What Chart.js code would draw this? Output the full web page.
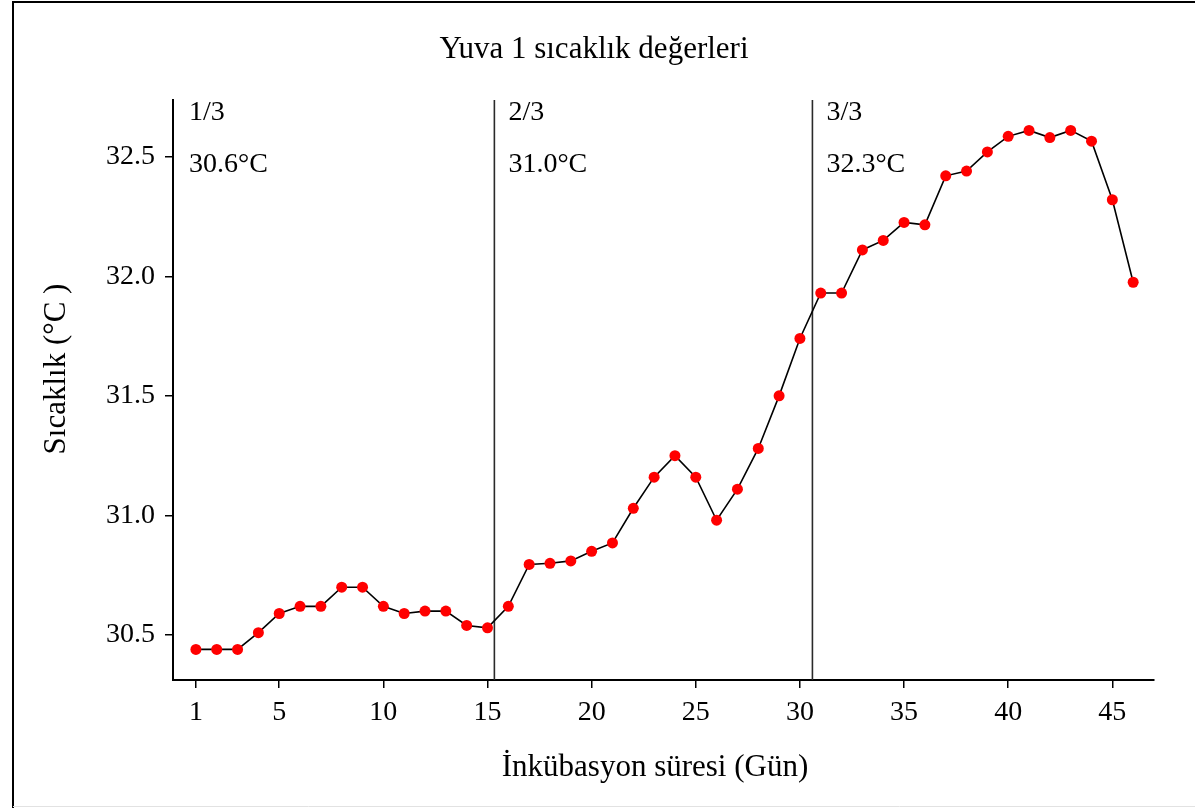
<!DOCTYPE html>
<html lang="tr">
<head>
<meta charset="UTF-8">
<title>Yuva 1 sıcaklık değerleri</title>
<script src="https://cdn.jsdelivr.net/npm/chart.js@4.4.0/dist/chart.umd.min.js"></script>
<style>
  html, body { margin: 0; padding: 0; background: #fff; }
  canvas { display: block; }
</style>
</head>
<body>
<canvas id="chart" width="1195" height="808"></canvas>
<script>
// incubation day and nest temperature (°C)
const days = [1, 2, 3, 4, 5, 6, 7, 8, 9, 10, 11, 12, 13, 14, 15, 16, 17, 18, 19, 20, 21, 22, 23,
              24, 25, 26, 27, 28, 29, 30, 31, 32, 33, 34, 35, 36, 37, 38, 39, 40, 41, 42, 43, 44, 45, 46];
const temps = [30.44, 30.44, 30.44, 30.51, 30.59, 30.62, 30.62, 30.70, 30.70, 30.62, 30.59, 30.60,
               30.60, 30.54, 30.53, 30.62, 30.795, 30.80, 30.81, 30.85, 30.885, 31.03, 31.16, 31.25,
               31.16, 30.98, 31.11, 31.28, 31.50, 31.74, 31.93, 31.93, 32.11, 32.15, 32.225, 32.215,
               32.42, 32.44, 32.52, 32.585, 32.61, 32.58, 32.61, 32.565, 32.32, 31.975];

const xTicks = [1, 5, 10, 15, 20, 25, 30, 35, 40, 45];
const yTicks = [30.5, 31.0, 31.5, 32.0, 32.5];

// thirds of the incubation period
const splitDays = [15.33, 30.6];
const periodLabels = ['1/3', '2/3', '3/3'];
const periodMeans = ['30.6°C', '31.0°C', '32.3°C'];

const X_MIN = -0.1, X_MAX = 47.0;
const Y_MIN = 30.312, Y_MAX = 32.737;
const SERIF = '"Liberation Serif", "Times New Roman", serif';

const splitSets = splitDays.map(d => ({
    data: [{ x: d, y: Y_MIN }, { x: d, y: Y_MAX }],
    borderColor: '#2a2a2a',
    borderWidth: 1.6,
    pointRadius: 0,
    order: 1
}));

const decor = {
    id: 'decor',
    beforeDraw(chart) {
        const c = chart.ctx;
        c.save();
        c.fillStyle = '#fff';
        c.fillRect(0, 0, chart.width, chart.height);
        c.restore();
    },
    afterDraw(chart) {
        const c = chart.ctx;
        const xs = chart.scales.x;
        c.save();
        // frame
        c.strokeStyle = '#000';
        c.lineWidth = 2;
        c.beginPath();
        c.moveTo(13, 808);
        c.lineTo(13, 2);
        c.lineTo(1195, 2);
        c.stroke();
        c.strokeStyle = '#e2e2e2';
        c.lineWidth = 1;
        c.beginPath();
        c.moveTo(13, 806.5);
        c.lineTo(1195, 806.5);
        c.stroke();

        c.fillStyle = '#000';
        c.textBaseline = 'alphabetic';
        c.textAlign = 'center';
        c.font = '31px ' + SERIF;
        c.fillText('Yuva 1 sıcaklık değerleri', 594, 58);
        c.fillText('İnkübasyon süresi (Gün)', 655, 776);

        c.save();
        c.translate(57, 369);
        c.rotate(-Math.PI / 2);
        c.textBaseline = 'middle';
        c.fillText('Sıcaklık (°C )', 0, 0);
        c.restore();

        // period labels
        c.textAlign = 'left';
        c.font = '28px ' + SERIF;
        const starts = [0].concat(splitDays);
        starts.forEach((d, i) => {
            const px = xs.getPixelForValue(d) + 14;
            c.fillText(periodLabels[i], px, 120);
            c.fillText(periodMeans[i], px, 172);
        });
        c.restore();
    }
};

const axisCommon = {
    grid: { display: true, drawOnChartArea: false, drawTicks: true, tickLength: 8, color: '#000', lineWidth: 1.5 },
    border: { display: true, color: '#000', width: 2 }
};

const ctx = document.getElementById('chart').getContext('2d');
const myChart = new Chart(ctx, {
    type: 'line',
    data: {
        datasets: [{
            data: days.map((d, i) => ({ x: d, y: temps[i] })),
            borderColor: '#000',
            borderWidth: 1.6,
            pointRadius: 5.5,
            pointBorderWidth: 0,
            pointBackgroundColor: '#ff0000',
            tension: 0,
            order: 0
        }].concat(splitSets)
    },
    options: {
        responsive: false,
        devicePixelRatio: 1,
        animation: false,
        layout: { padding: { left: 0, top: 100, right: 41, bottom: 0 } },
        plugins: { legend: { display: false }, title: { display: false }, tooltip: { enabled: false } },
        scales: {
            x: Object.assign({
                type: 'linear',
                min: X_MIN,
                max: X_MAX,
                afterBuildTicks: s => { s.ticks = xTicks.map(v => ({ value: v })); },
                afterFit: s => { s.height = 128; },
                ticks: { color: '#000', font: { family: SERIF, size: 28 }, padding: 8, maxRotation: 0, autoSkip: false }
            }, axisCommon),
            y: Object.assign({
                type: 'linear',
                min: Y_MIN,
                max: Y_MAX,
                afterBuildTicks: s => { s.ticks = yTicks.map(v => ({ value: v })); },
                afterFit: s => { s.width = 173; },
                ticks: { color: '#000', font: { family: SERIF, size: 28 }, padding: 10,
                         callback: v => v.toFixed(1) }
            }, axisCommon)
        }
    },
    plugins: [decor]
});
</script>
</body>
</html>
